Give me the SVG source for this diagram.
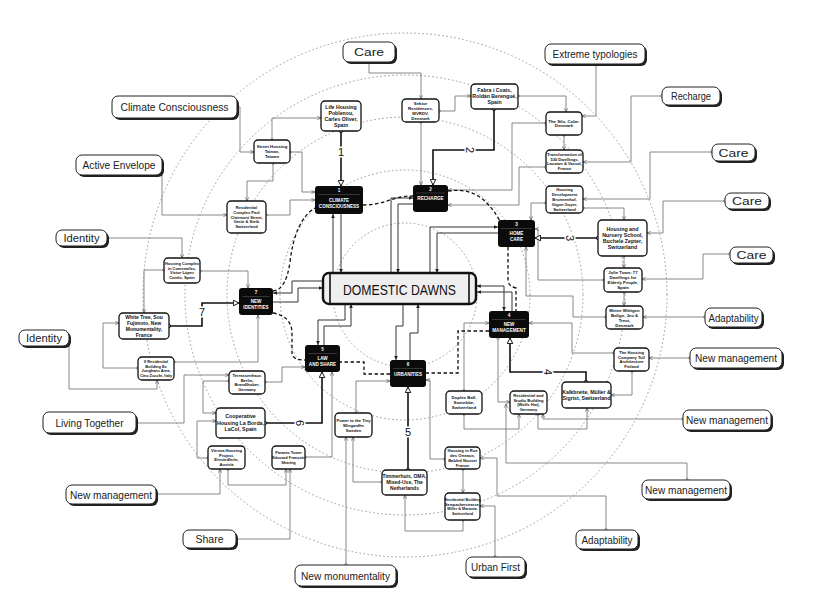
<svg xmlns="http://www.w3.org/2000/svg" width="831" height="604" viewBox="0 0 831 604">
<defs>
<style>
.ring{fill:none;stroke:#9a9a9a;stroke-width:1;stroke-dasharray:0.8 3.2;stroke-linecap:round}
.tag .sh{fill:#222}
.tag .bx{fill:#fff;stroke:#222;stroke-width:1}
.tag text{font-family:"Liberation Sans",Arial,sans-serif;font-size:11.5px;fill:#222;text-anchor:middle}
.pj rect{fill:#fff;stroke:#111;stroke-width:1.3}
.pj text{font-family:"Liberation Sans",Arial,sans-serif;font-weight:bold;fill:#111;text-anchor:middle}
.th rect{fill:#0b0b0b}
.th line{stroke:#777;stroke-width:0.4}
.th text{font-family:"Liberation Sans",Arial,sans-serif;font-weight:bold;fill:#fff;text-anchor:middle;font-size:4.6px}
.g{fill:none;stroke:#7a7a7a;stroke-width:0.9;marker-start:url(#dot);marker-end:url(#ah)}
.c{fill:none;stroke:#333;stroke-width:1;marker-end:url(#ahd)}
.tk{fill:none;stroke:#111;stroke-width:1.6;marker-start:url(#dotk);marker-end:url(#tri)}
.ds{fill:none;stroke:#111;stroke-width:1.3;stroke-dasharray:3.5 2.5}
.num{font-family:"Liberation Sans",Arial,sans-serif;font-size:11px;fill:#111;text-anchor:middle;stroke:#fff;stroke-width:3;paint-order:stroke}
</style>
<marker id="ah" viewBox="0 0 6 6" refX="5.5" refY="3" markerWidth="4" markerHeight="4" markerUnits="userSpaceOnUse" orient="auto"><path d="M0,0.5 L5.5,3 L0,5.5" fill="none" stroke="#555" stroke-width="1"/></marker>
<marker id="ahd" viewBox="0 0 6 6" refX="5.5" refY="3" markerWidth="4.5" markerHeight="4.5" markerUnits="userSpaceOnUse" orient="auto"><path d="M0,0.5 L5.5,3 L0,5.5 Z" fill="#222"/></marker>
<marker id="ahds" viewBox="0 0 6 6" refX="0.5" refY="3" markerWidth="4.5" markerHeight="4.5" markerUnits="userSpaceOnUse" orient="auto"><path d="M5.5,0.5 L0,3 L5.5,5.5 Z" fill="#222"/></marker>
<marker id="dot" viewBox="0 0 6 6" refX="3" refY="3" markerWidth="3.5" markerHeight="3.5" markerUnits="userSpaceOnUse"><circle cx="3" cy="3" r="2.2" fill="#fff" stroke="#555" stroke-width="1.2"/></marker>
<marker id="dotk" viewBox="0 0 6 6" refX="3" refY="3" markerWidth="4.5" markerHeight="4.5" markerUnits="userSpaceOnUse"><circle cx="3" cy="3" r="2.2" fill="#fff" stroke="#111" stroke-width="1.3"/></marker>
<marker id="tri" viewBox="0 0 10 10" refX="9" refY="5" markerWidth="7" markerHeight="7" markerUnits="userSpaceOnUse" orient="auto"><path d="M1,1 L9,5 L1,9 Z" fill="#fff" stroke="#111" stroke-width="1.4"/></marker>
</defs>
<rect width="831" height="604" fill="#fff"/>

<g id="rings">
<circle class="ring" cx="405" cy="295" r="262"/>
<circle class="ring" cx="405" cy="295" r="220"/>
<circle class="ring" cx="405" cy="295" r="178"/>
<circle class="ring" cx="405" cy="295" r="125"/>
<circle class="ring" cx="405" cy="295" r="72"/>
</g>

<g id="connectors">
<path class="g" d="M369,62 V73 H421 V99"/>
<path class="g" d="M421,122 V185"/>
<path class="g" d="M439,111 H455 V96 H471"/>
<path class="g" d="M596,64 V116 H582"/>
<path class="g" d="M518,96 H566 V112"/>
<path class="g" d="M564,135 V150"/>
<path class="g" d="M546,123 H512 V190 H448"/>
<path class="g" d="M662,96 H631 V162 H583"/>
<path class="g" d="M546,167 H519 V205 H448"/>
<path class="g" d="M712,152 H650 V199 H583"/>
<path class="g" d="M546,203 H531 V220"/>
<path class="g" d="M583,208 H624 V220"/>
<path class="g" d="M725,201 H663 V233 H647"/>
<path class="g" d="M624,256 V268"/>
<path class="g" d="M730,254 H703 V279 H642"/>
<path class="g" d="M604,280 H538 V229 H535"/>
<path class="g" d="M624,292 V306"/>
<path class="g" d="M705,317 H643"/>
<path class="g" d="M606,317 H573 V296 H526 V247"/>
<path class="g" d="M690,358 H649"/>
<path class="g" d="M614,353 H572 V323 H529"/>
<path class="g" d="M632,371 V395 H611"/>
<path class="g" d="M683,419 H543 V414"/>
<path class="g" d="M538,414 V429 H587 V408"/>
<path class="g" d="M464,414 V429 H519 V414"/>
<path class="g" d="M464,391 V323 H489"/>
<path class="g" d="M498,338 V402 H510"/>
<path class="g" d="M687,480 V463 H506 V404"/>
<path class="g" d="M606,530 V496 H497 V458 H480"/>
<path class="g" d="M495,557 V506 H480"/>
<path class="g" d="M463,469 V493"/>
<path class="g" d="M445,459 H430 V380 H426"/>
<path class="g" d="M463,520 V531 H405 V495"/>
<path class="g" d="M346,565 V437"/>
<path class="g" d="M382,482 H353 V437"/>
<path class="g" d="M356,413 V381 H390"/>
<path class="g" d="M236,539 H290 V469"/>
<path class="g" d="M156,494 H220 V469"/>
<path class="g" d="M228,469 V485 H286 V469"/>
<path class="g" d="M305,457 H332 V372"/>
<path class="g" d="M208,458 H197 V421 H216"/>
<path class="g" d="M136,423 H184 V375 H229"/>
<path class="g" d="M229,381 H203 V413 H216"/>
<path class="g" d="M265,382 H282 V367 H305"/>
<path class="g" d="M138,368 H103 V323 H119"/>
<path class="g" d="M69,338 V389 H157 V380"/>
<path class="g" d="M174,362 H258 V315"/>
<path class="g" d="M107,238 H182 V258"/>
<path class="g" d="M164,270 H144 V313"/>
<path class="g" d="M200,271 H248 V288"/>
<path class="g" d="M273,163 V181 H247 V201"/>
<path class="g" d="M162,165 V215 H227"/>
<path class="g" d="M266,215 H290 V200 H315"/>
<path class="g" d="M237,107 H240 V152 H254"/>
<path class="g" d="M272,140 V118 H321"/>
<path class="g" d="M290,152 H302 V192 H315"/>

<path class="c" d="M333,273 V214"/>
<path class="c" d="M341,214 V273"/>
<path class="c" d="M391,273 V198 H413"/>
<path class="c" d="M413,204 H398 V273"/>
<path class="c" d="M430,273 V227 H498"/>
<path class="c" d="M498,233 H437 V273"/>
<path class="c" d="M477,286 H504 V311" style="marker-start:url(#ahds)"/>
<path class="c" d="M512,311 V292 H477"/>
<path class="c" d="M403,304 V326 H396 V360"/>
<path class="c" d="M410,360 V333 H418 V304"/>
<path class="c" d="M345,304 V320 H318 V345"/>
<path class="c" d="M324,345 V326 H351 V304"/>
<path class="c" d="M323,281 H292 V293 H273"/>
<path class="c" d="M273,302 H298 V288 H323"/>

<path class="ds" d="M363,205 C385,205 392,196 413,196"/>
<path class="ds" d="M448,191 C470,188 485,195 500,221"/>
<path class="ds" d="M508,247 V280 Q508,286 516,288 V311"/>
<path class="ds" d="M489,331 H458 V373 H426"/>
<path class="ds" d="M390,374 H364 V362 H340"/>
<path class="ds" d="M273,313 Q291,316 292,332 V354 Q293,360 305,360"/>
<path class="ds" d="M273,291 Q286,290 290,262 Q295,220 315,208"/>

<path class="tk" d="M341,131 V186"/>
<path class="tk" d="M494,109 V150 H433 V185"/>
<path class="tk" d="M598,238 H535"/>
<path class="tk" d="M586,382 V372 H510 V338"/>
<path class="tk" d="M408,470 V387"/>
<path class="tk" d="M265,423 H322 V372"/>
<path class="tk" d="M169,326 H202 V303 H239"/>
<text class="num" x="341" y="156">1</text>
<text class="num" transform="translate(470,150) rotate(90)" x="0" y="4">2</text>
<text class="num" transform="translate(570,238) rotate(90)" x="0" y="4">3</text>
<text class="num" transform="translate(548,372) rotate(90)" x="0" y="4">4</text>
<text class="num" x="408" y="436">5</text>
<text class="num" transform="translate(300,423) rotate(90)" x="0" y="4">6</text>
<text class="num" x="202" y="316">7</text>
</g>

<g id="tag-care-top" class="tag"><rect class="sh" x="345" y="44" width="52" height="20" rx="6"/><rect class="bx" x="343" y="42" width="52" height="20" rx="6"/><text x="369" y="56" textLength="30" lengthAdjust="spacingAndGlyphs">Care</text></g>
<g id="tag-extreme" class="tag"><rect class="sh" x="547" y="46" width="100" height="20" rx="6"/><rect class="bx" x="545" y="44" width="100" height="20" rx="6"/><text x="595" y="58" textLength="85" lengthAdjust="spacingAndGlyphs">Extreme typologies</text></g>
<g id="tag-recharge" class="tag"><rect class="sh" x="664" y="89" width="58" height="18" rx="6"/><rect class="bx" x="662" y="87" width="58" height="18" rx="6"/><text x="691" y="100" textLength="40" lengthAdjust="spacingAndGlyphs">Recharge</text></g>
<g id="tag-care-r1" class="tag"><rect class="sh" x="714" y="146" width="43" height="17" rx="6"/><rect class="bx" x="712" y="144" width="43" height="17" rx="6"/><text x="733.5" y="156.5" textLength="30" lengthAdjust="spacingAndGlyphs">Care</text></g>
<g id="tag-care-r2" class="tag"><rect class="sh" x="727" y="195" width="44" height="16" rx="6"/><rect class="bx" x="725" y="193" width="44" height="16" rx="6"/><text x="747" y="205" textLength="30" lengthAdjust="spacingAndGlyphs">Care</text></g>
<g id="tag-care-r3" class="tag"><rect class="sh" x="732" y="249" width="43" height="16" rx="6"/><rect class="bx" x="730" y="247" width="43" height="16" rx="6"/><text x="751.5" y="259" textLength="30" lengthAdjust="spacingAndGlyphs">Care</text></g>
<g id="tag-adapt-r" class="tag"><rect class="sh" x="707" y="310" width="57" height="19" rx="6"/><rect class="bx" x="705" y="308" width="57" height="19" rx="6"/><text x="733.5" y="321.5" textLength="50" lengthAdjust="spacingAndGlyphs">Adaptability</text></g>
<g id="tag-nm-r1" class="tag"><rect class="sh" x="692" y="350" width="92" height="20" rx="6"/><rect class="bx" x="690" y="348" width="92" height="20" rx="6"/><text x="736" y="362" textLength="82" lengthAdjust="spacingAndGlyphs">New management</text></g>
<g id="tag-nm-r2" class="tag"><rect class="sh" x="685" y="412" width="88" height="20" rx="6"/><rect class="bx" x="683" y="410" width="88" height="20" rx="6"/><text x="727" y="424" textLength="82" lengthAdjust="spacingAndGlyphs">New management</text></g>
<g id="tag-nm-r3" class="tag"><rect class="sh" x="644" y="482" width="88" height="19" rx="6"/><rect class="bx" x="642" y="480" width="88" height="19" rx="6"/><text x="686" y="493.5" textLength="82" lengthAdjust="spacingAndGlyphs">New management</text></g>
<g id="tag-adapt-b" class="tag"><rect class="sh" x="578" y="532" width="62" height="19" rx="6"/><rect class="bx" x="576" y="530" width="62" height="19" rx="6"/><text x="607" y="543.5" textLength="51" lengthAdjust="spacingAndGlyphs">Adaptability</text></g>
<g id="tag-urban" class="tag"><rect class="sh" x="468" y="559" width="59" height="20" rx="6"/><rect class="bx" x="466" y="557" width="59" height="20" rx="6"/><text x="495.5" y="571" textLength="49" lengthAdjust="spacingAndGlyphs">Urban First</text></g>
<g id="tag-newmon" class="tag"><rect class="sh" x="297" y="567" width="101" height="21" rx="6"/><rect class="bx" x="295" y="565" width="101" height="21" rx="6"/><text x="345.5" y="579.5" textLength="89" lengthAdjust="spacingAndGlyphs">New monumentality</text></g>
<g id="tag-share" class="tag"><rect class="sh" x="185" y="532" width="53" height="18" rx="6"/><rect class="bx" x="183" y="530" width="53" height="18" rx="6"/><text x="209.5" y="543" textLength="28" lengthAdjust="spacingAndGlyphs">Share</text></g>
<g id="tag-nm-l" class="tag"><rect class="sh" x="68" y="487" width="90" height="19" rx="6"/><rect class="bx" x="66" y="485" width="90" height="19" rx="6"/><text x="111" y="498.5" textLength="82" lengthAdjust="spacingAndGlyphs">New management</text></g>
<g id="tag-living" class="tag"><rect class="sh" x="45" y="414" width="93" height="21" rx="6"/><rect class="bx" x="43" y="412" width="93" height="21" rx="6"/><text x="89.5" y="426.5" textLength="68" lengthAdjust="spacingAndGlyphs">Living Together</text></g>
<g id="tag-identity-b" class="tag"><rect class="sh" x="21" y="332" width="50" height="16" rx="6"/><rect class="bx" x="19" y="330" width="50" height="16" rx="6"/><text x="44" y="342" textLength="36" lengthAdjust="spacingAndGlyphs">Identity</text></g>
<g id="tag-identity-t" class="tag"><rect class="sh" x="58" y="232" width="51" height="16" rx="6"/><rect class="bx" x="56" y="230" width="51" height="16" rx="6"/><text x="81.5" y="242" textLength="36" lengthAdjust="spacingAndGlyphs">Identity</text></g>
<g id="tag-active" class="tag"><rect class="sh" x="78" y="157" width="86" height="20" rx="6"/><rect class="bx" x="76" y="155" width="86" height="20" rx="6"/><text x="119" y="169" textLength="73" lengthAdjust="spacingAndGlyphs">Active Envelope</text></g>
<g id="tag-climate" class="tag"><rect class="sh" x="114" y="98" width="125" height="22" rx="6"/><rect class="bx" x="112" y="96" width="125" height="22" rx="6"/><text x="174.5" y="111" textLength="108" lengthAdjust="spacingAndGlyphs">Climate Consciousness</text></g>

<g id="p-life" class="pj"><rect x="321" y="101" width="40" height="30" rx="4"/><text font-size="5.2"><tspan x="341" y="108.8">Life Housing</tspan><tspan x="341" y="114.8">Poblenou,</tspan><tspan x="341" y="120.8">Carles Oliver,</tspan><tspan x="341" y="126.8">Spain</tspan></text></g>
<g id="p-street" class="pj"><rect x="254" y="140" width="36" height="23" rx="4"/><text font-size="4.3"><tspan x="272" y="148">Street Housing</tspan><tspan x="272" y="153">Tainan,</tspan><tspan x="272" y="158">Taiwan</tspan></text></g>
<g id="p-sektor" class="pj"><rect x="402" y="99" width="37" height="23" rx="4"/><text font-size="4.3"><tspan x="420.5" y="104.5">Sektor</tspan><tspan x="420.5" y="109.5">Residences,</tspan><tspan x="420.5" y="114.5">MVRDV,</tspan><tspan x="420.5" y="119.5">Denmark</tspan></text></g>
<g id="p-fabra" class="pj"><rect x="471" y="84" width="47" height="25" rx="4"/><text font-size="5.2"><tspan x="494.5" y="92.3">Fabra i Coats,</tspan><tspan x="494.5" y="98.3">Roldán Berengué,</tspan><tspan x="494.5" y="104.3">Spain</tspan></text></g>
<g id="p-silo" class="pj"><rect x="546" y="112" width="36" height="23" rx="4"/><text font-size="4.3"><tspan x="564" y="122.7">The Silo, Cobe:</tspan><tspan x="564" y="127.3">Denmark</tspan></text></g>
<g id="p-transf" class="pj"><rect x="546" y="150" width="37" height="23" rx="4"/><text font-size="4.1"><tspan x="564.5" y="155.8">Transformation of</tspan><tspan x="564.5" y="160.6">530 Dwellings,</tspan><tspan x="564.5" y="165.4">Lacaton &amp; Vassal,</tspan><tspan x="564.5" y="170.2">France</tspan></text></g>
<g id="p-housdev" class="pj"><rect x="546" y="186" width="37" height="27" rx="4"/><text font-size="4.1"><tspan x="564.5" y="191.4">Housing</tspan><tspan x="564.5" y="196.2">Development</tspan><tspan x="564.5" y="201">Brunnenhof,</tspan><tspan x="564.5" y="205.8">Gigon Guyer,</tspan><tspan x="564.5" y="210.6">Switzerland</tspan></text></g>
<g id="p-nursery" class="pj"><rect x="598" y="220" width="49" height="36" rx="4"/><text font-size="5.3"><tspan x="622.5" y="230.6">Housing and</tspan><tspan x="622.5" y="236.8">Nursery School,</tspan><tspan x="622.5" y="243">Buchele Zepter,</tspan><tspan x="622.5" y="249.2">Switzerland</tspan></text></g>
<g id="p-jolie" class="pj"><rect x="604" y="268" width="38" height="24" rx="4"/><text font-size="4.3"><tspan x="623" y="274">Jolie Town: 77</tspan><tspan x="623" y="279">Dwellings for</tspan><tspan x="623" y="284">Elderly People,</tspan><tspan x="623" y="289">Spain</tspan></text></g>
<g id="p-meine" class="pj"><rect x="606" y="306" width="37" height="23" rx="4"/><text font-size="4.3"><tspan x="624.5" y="311.5">Meine Wittigen</tspan><tspan x="624.5" y="316.5">Bolige, Jeu &amp;</tspan><tspan x="624.5" y="321.5">Treut,</tspan><tspan x="624.5" y="326.5">Denmark</tspan></text></g>
<g id="p-housco" class="pj"><rect x="614" y="348" width="35" height="23" rx="4"/><text font-size="4.1"><tspan x="631.5" y="353.8">The Housing</tspan><tspan x="631.5" y="358.6">Company Tull</tspan><tspan x="631.5" y="363.4">Architecture</tspan><tspan x="631.5" y="368.2">Finland</tspan></text></g>
<g id="p-kalk" class="pj"><rect x="562" y="382" width="49" height="26" rx="4"/><text font-size="5.2"><tspan x="586.5" y="393.6">Kalkbreite, Müller &amp;</tspan><tspan x="586.5" y="400.1">Sigrist, Switzerland</tspan></text></g>
<g id="p-resstudio" class="pj"><rect x="510" y="391" width="37" height="23" rx="4"/><text font-size="4.1"><tspan x="528.5" y="396.8">Residential and</tspan><tspan x="528.5" y="401.6">Studio Building</tspan><tspan x="528.5" y="406.4">(Wolfs Hm),</tspan><tspan x="528.5" y="411.2">Germany</tspan></text></g>
<g id="p-duplex" class="pj"><rect x="446" y="391" width="36" height="23" rx="4"/><text font-size="4.4"><tspan x="464" y="398.8">Duplex Ball,</tspan><tspan x="464" y="404">Somebbe,</tspan><tspan x="464" y="409.2">Switzerland</tspan></text></g>
<g id="p-rue" class="pj"><rect x="445" y="447" width="35" height="22" rx="4"/><text font-size="4.1"><tspan x="462.5" y="452.3">Housing in Rue</tspan><tspan x="462.5" y="457.1">des Orteaux,</tspan><tspan x="462.5" y="461.9">Babled Nouvet</tspan><tspan x="462.5" y="466.7">France</tspan></text></g>
<g id="p-sempach" class="pj"><rect x="445" y="493" width="35" height="27" rx="4"/><text font-size="3.8"><tspan x="462.5" y="500.7">Residential Building</tspan><tspan x="462.5" y="505.5">Sempacherstrasse,</tspan><tspan x="462.5" y="510.3">Miller &amp; Maranta,</tspan><tspan x="462.5" y="515.1">Switzerland</tspan></text></g>
<g id="p-timmer" class="pj"><rect x="382" y="470" width="45" height="25" rx="4"/><text font-size="5"><tspan x="404.5" y="478.3">Timmerhuis, OMA,</tspan><tspan x="404.5" y="484.3">Mixed-Use, The</tspan><tspan x="404.5" y="490.3">Netherlands</tspan></text></g>
<g id="p-power" class="pj"><rect x="335" y="413" width="37" height="24" rx="4"/><text font-size="4.1"><tspan x="353.5" y="421.5">Power to the Tiny</tspan><tspan x="353.5" y="426.5">Wingardhs</tspan><tspan x="353.5" y="431.5">Sweden</tspan></text></g>
<g id="p-paranto" class="pj"><rect x="272" y="446" width="33" height="23" rx="4"/><text font-size="3.9"><tspan x="288.5" y="454">Paranto Tower</tspan><tspan x="288.5" y="459">Edouard François</tspan><tspan x="288.5" y="464">Sharing</tspan></text></g>
<g id="p-vienna" class="pj"><rect x="208" y="446" width="37" height="23" rx="4"/><text font-size="4.1"><tspan x="226.5" y="451.8">Vienna Housing</tspan><tspan x="226.5" y="456.6">Project,</tspan><tspan x="226.5" y="461.4">Einsiedlerin,</tspan><tspan x="226.5" y="466.2">Austria</tspan></text></g>
<g id="p-laborda" class="pj"><rect x="216" y="408" width="49" height="30" rx="4"/><text font-size="5.3"><tspan x="240.5" y="418.4">Cooperative</tspan><tspan x="240.5" y="424.9">Housing La Borda,</tspan><tspan x="240.5" y="431.4">LaCol, Spain</tspan></text></g>
<g id="p-terrassen" class="pj"><rect x="229" y="371" width="36" height="23" rx="4"/><text font-size="4.1"><tspan x="247" y="376.8">Terrassenhaus</tspan><tspan x="247" y="381.6">Berlin,</tspan><tspan x="247" y="386.4">Brandlhuber,</tspan><tspan x="247" y="391.2">Germany</tspan></text></g>
<g id="p-junghans" class="pj"><rect x="138" y="357" width="36" height="23" rx="4"/><text font-size="3.9"><tspan x="156" y="362.7">Il Residential</tspan><tspan x="156" y="367.5">Building Ex</tspan><tspan x="156" y="372.3">Junghans Area,</tspan><tspan x="156" y="377.1">Cino Zucchi, Italy</tspan></text></g>
<g id="p-whitetree" class="pj"><rect x="119" y="313" width="50" height="26" rx="4"/><text font-size="5"><tspan x="144" y="319.1">White Tree, Sou</tspan><tspan x="144" y="324.9">Fujimoto, New</tspan><tspan x="144" y="330.7">Monumentality,</tspan><tspan x="144" y="336.5">France</tspan></text></g>
<g id="p-comenalles" class="pj"><rect x="164" y="258" width="36" height="25" rx="4"/><text font-size="4"><tspan x="182" y="264.6">Housing Complex</tspan><tspan x="182" y="269.5">in Comenalles,</tspan><tspan x="182" y="274.4">Victor López</tspan><tspan x="182" y="279.3">Cotelo, Spain</tspan></text></g>
<g id="p-clairmont" class="pj"><rect x="227" y="201" width="39" height="32" rx="4"/><text font-size="4"><tspan x="246.5" y="208.7">Residential</tspan><tspan x="246.5" y="213.6">Complex Paul</tspan><tspan x="246.5" y="218.5">Clairmont Street,</tspan><tspan x="246.5" y="223.4">Gmür &amp; Steib</tspan><tspan x="246.5" y="228.3">Switzerland</tspan></text></g>

<g id="t1" class="th"><rect x="315" y="186" width="48" height="28" rx="3"/><line x1="318" y1="194.5" x2="360" y2="194.5"/><text x="339" y="192">1</text><text x="339" y="202">CLIMATE</text><text x="339" y="208">CONSCIOUSNESS</text></g>
<g id="t2" class="th"><rect x="413" y="185" width="35" height="27" rx="3"/><line x1="416" y1="193" x2="445" y2="193"/><text x="430.5" y="190.5">2</text><text x="430.5" y="200">RECHARGE</text></g>
<g id="t3" class="th"><rect x="498" y="220" width="37" height="27" rx="3"/><line x1="501" y1="228.5" x2="532" y2="228.5"/><text x="516.5" y="226">3</text><text x="516.5" y="234.5">HOME</text><text x="516.5" y="240.5">CARE</text></g>
<g id="t4" class="th"><rect x="489" y="311" width="40" height="27" rx="3"/><line x1="492" y1="319.5" x2="526" y2="319.5"/><text x="509" y="317">4</text><text x="509" y="325.5">NEW</text><text x="509" y="331.5">MANAGEMENT</text></g>
<g id="t5" class="th"><rect x="305" y="345" width="35" height="27" rx="3"/><line x1="308" y1="353.5" x2="337" y2="353.5"/><text x="322.5" y="351">5</text><text x="322.5" y="359.5">LAW</text><text x="322.5" y="365.5">AND SHARE</text></g>
<g id="t6" class="th"><rect x="390" y="360" width="36" height="27" rx="3"/><line x1="393" y1="368.5" x2="423" y2="368.5"/><text x="408" y="366">6</text><text x="408" y="376">URBANITIES</text></g>
<g id="t7" class="th"><rect x="239" y="288" width="34" height="27" rx="3"/><line x1="242" y1="296.5" x2="270" y2="296.5"/><text x="256" y="294">7</text><text x="256" y="302.5">NEW</text><text x="256" y="308.5">IDENTITIES</text></g>

<g id="center">
<rect x="323" y="273" width="153" height="31" rx="6" fill="#efefef" stroke="#111" stroke-width="2.4"/>
<line x1="330" y1="274" x2="330" y2="303" stroke="#111" stroke-width="1.6"/>
<line x1="469" y1="274" x2="469" y2="303" stroke="#111" stroke-width="1.6"/>
<text x="399.5" y="294.5" font-family="Liberation Sans, Arial, sans-serif" font-size="14.5" font-weight="500" fill="#111" text-anchor="middle" textLength="113" lengthAdjust="spacingAndGlyphs">DOMESTIC DAWNS</text>
</g>
</svg>
